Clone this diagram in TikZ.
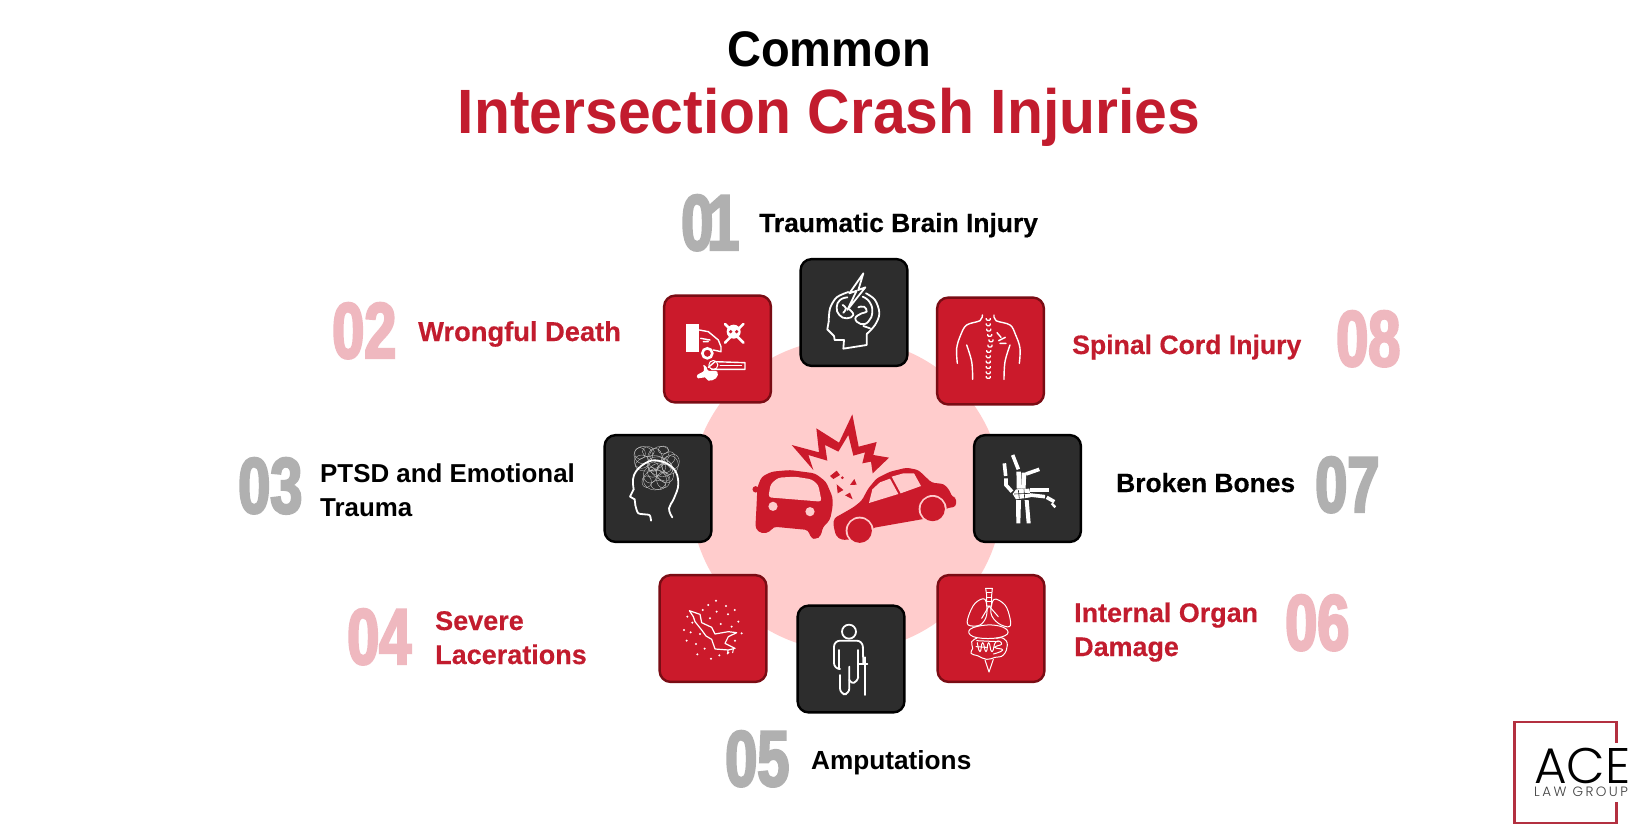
\documentclass[tikz,border=0pt]{standalone}
\usepackage{fontspec}
\setmainfont{Liberation Sans}
\newfontfamily\numfont[FakeStretch=0.73,FakeBold=3]{Liberation Sans}
\newfontfamily\titlefont[FakeStretch=0.94]{Liberation Sans}
\newfontfamily\labelfont[FakeBold=0.4]{Liberation Sans}
\newfontfamily\acefont{Poppins Light}
\newfontfamily\lawfont[LetterSpace=18]{Poppins Light}
\definecolor{crimson}{HTML}{CB1A2B}
\definecolor{crimsonEdge}{HTML}{7A0C14}
\definecolor{labelred}{HTML}{C21C2E}
\definecolor{darkbox}{HTML}{2D2D2D}
\definecolor{disc}{HTML}{FFCCCC}
\definecolor{numgray}{HTML}{B0B0B0}
\definecolor{numpink}{HTML}{EFB8BF}
\definecolor{logored}{HTML}{B33040}
\tikzset{
  boxbase/.style={rounded corners=11pt,minimum width=106.8pt,minimum height=106.8pt,line width=2.4pt,inner sep=0pt,outer sep=0pt},
  darkcard/.style={boxbase,draw=black,fill=darkbox},
  redcard/.style={boxbase,draw=crimsonEdge,fill=crimson},
  numlabel/.style={anchor=base west,inner sep=0pt,font=\numfont\bfseries\fontsize{79}{79}\selectfont},
  blacklabel/.style={anchor=base west,inner sep=0pt,align=left,text=black,font=\bfseries\fontsize{26.4}{34}\selectfont},
  boldblack/.style={blacklabel,font=\labelfont\bfseries\fontsize{26.4}{34}\selectfont},
  redlabel/.style={boldblack,text=labelred},
  zoomed/.style 2 args={shift={(#1,#2)},x=0.33333pt,y=-0.33333pt},
  iconline/.style={draw=white,line width=1.8pt,line join=round,line cap=round},
  iconmid/.style={draw=white,line width=1.4pt,line join=round,line cap=round},
  iconfine/.style={draw=white,line width=1pt,line join=round,line cap=round},
  iconhair/.style={draw=white!75!darkbox,line width=0.35pt},
  bone/.style={draw=white,line width=3.6pt},
}
\begin{document}
\begin{tikzpicture}[x=1pt,y=-1pt]
\useasboundingbox (0,0) rectangle (1640,840);
\fill[white] (0,0) rectangle (1640,840);
% disc
\node[circle,fill=disc,minimum size=312pt,inner sep=0pt] (hub) at (846.5,495) {};
% title
\node[anchor=base,inner sep=0pt,font=\titlefont\bfseries\fontsize{50}{50}\selectfont] (t1) at (829,67) {Common};
\node[anchor=base,inner sep=0pt,text=labelred,font=\titlefont\bfseries\fontsize{62.6}{62}\selectfont] (t2) at (829,133) {Intersection Crash Injuries};
% cards
\node[darkcard] (c1) at (854,312.5) {};
\node[redcard]  (c2) at (717.5,349) {};
\node[darkcard] (c3) at (658,488.5) {};
\node[redcard]  (c4) at (713,628.5) {};
\node[darkcard] (c5) at (851,659) {};
\node[redcard]  (c6) at (991,628.5) {};
\node[darkcard] (c7) at (1027.5,488.5) {};
\node[redcard]  (c8) at (990.5,351) {};
% numbers
\node[numlabel,text=numgray] (n1) at (681,250) {0\kern-6pt 1};
\node[numlabel,text=numpink] (n2) at (332,358) {02};
\node[numlabel,text=numgray] (n3) at (238,513) {03};
\node[numlabel,text=numpink] (n4) at (347,664) {04};
\node[numlabel,text=numgray] (n5) at (725,786) {05};
\node[numlabel,text=numpink] (n6) at (1285,650) {06};
\node[numlabel,text=numgray] (n7) at (1315,512) {07};
\node[numlabel,text=numpink] (n8) at (1336,366) {08};
% labels
\node[boldblack] (l1) at (759,232) {Traumatic Brain Injury};
\node[redlabel,font=\labelfont\bfseries\fontsize{27.3}{34}\selectfont]   (l2) at (418,341) {Wrongful Death};
\node[blacklabel,font=\bfseries\fontsize{25.9}{34}\selectfont] (l3) at (320,516) {PTSD and Emotional\\Trauma};
\node[redlabel,font=\labelfont\bfseries\fontsize{27}{34}\selectfont]   (l4) at (435,664) {Severe\\Lacerations};
\node[blacklabel,font=\bfseries\fontsize{26.2}{34}\selectfont] (l5) at (811,769) {Amputations};
\node[redlabel,font=\labelfont\bfseries\fontsize{26.9}{34}\selectfont]   (l6) at (1074,656) {Internal Organ\\Damage};
\node[boldblack] (l7) at (1116,492) {Broken Bones};
\node[redlabel,font=\labelfont\bfseries\fontsize{26.6}{34}\selectfont]   (l8) at (1072,354) {Spinal Cord Injury};
% crash picture
\begin{scope}[zoomed={740}{410},fill=crimson]
  \fill (155,105) -- (237,127) -- (229,55) -- (297,98) -- (337,13) -- (356,110) -- (410,96) -- (400,135) -- (447,143) -- (398,190) -- (393,155) -- (367,160) -- (375,127) -- (340,137) -- (325,75) -- (295,125) -- (255,105) -- (262,152) -- (205,135) -- (220,180) -- cycle;
  % left car
  \fill[rounded corners=3.5pt] (52,232) -- (65,200) -- (95,185) -- (150,180) -- (225,190) -- (258,215) -- (278,262) -- (278,290) -- (270,330) -- (248,352) -- (243,378) -- (228,388) -- (212,384) -- (205,360) -- (100,350) -- (90,366) -- (65,371) -- (46,356) -- (50,280) -- cycle;
  \fill (47,238) circle[radius=3.2pt];
  \fill[disc,rounded corners=3pt] (85,262) -- (92,222) -- (115,203) -- (165,200) -- (215,208) -- (235,225) -- (245,275) -- cycle;
  \fill[disc] (99,289) circle[radius=4.6pt] (210,305) circle[radius=4.6pt];
  % right car
  \fill[rounded corners=3pt] (280,345) -- (282,325) -- (340,292) -- (365,272) -- (385,235) -- (410,205) -- (450,185) -- (500,173) -- (535,180) -- (575,218) -- (612,222) -- (628,240) -- (637,262) -- (648,262) -- (648,290) -- (618,295) -- (590,320) -- (397,354) -- (380,385) -- (305,390) -- (288,378) -- cycle;
  \fill[disc] (387,279) -- (397,238) -- (420,217) -- (450,206) -- (475,252) -- cycle;
  \fill[disc] (455,200) -- (490,190) -- (522,190) -- (543,228) -- (482,250) -- cycle;
  \fill[disc] (359,362) circle[radius=14pt];
  \fill (359,362) circle[radius=12.2pt];
  \fill[disc] (578,297) circle[radius=14pt];
  \fill (578,297) circle[radius=12.2pt];
  % debris
  \fill (270,198) -- (290,182) -- (300,195) -- (280,207) -- cycle;
  \fill (307,203) circle[radius=1.5pt];
  \fill (330,225) -- (343,207) -- (350,224) -- cycle;
  \fill (290,223) -- (310,240) -- (293,250) -- cycle;
  \fill (315,256) -- (330,248) -- (338,268) -- cycle;
\end{scope}
% icon 1: head, brain and bolt
\begin{scope}[zoomed={640}{250}]
  \draw[iconline] plot[smooth,tension=.5] coordinates {(625,126) (590,142) (570,175) (566,215)};
  \draw[iconline] (566,215) -- (562,238) -- (582,258) -- (584,270) -- (612,270) -- (610,296) -- (680,285) -- (680,252);
  \draw[iconline] plot[smooth,tension=.6] coordinates {(680,252) (705,225) (718,190) (705,150) (678,130)};
  \draw[iconline] (670,70) -- (628,130) -- (650,122) -- (622,180) -- (676,112) -- (655,120) -- cycle;
  \draw[iconline] plot[smooth,tension=.8] coordinates {(622,142) (600,150) (590,172) (598,195) (620,205) (640,195) (628,178)};
  \draw[iconline] plot[smooth,tension=.8] coordinates {(608,165) (618,175) (610,188)};
  \draw[iconline] plot[smooth,tension=.8] coordinates {(668,140) (688,155) (697,185) (685,215) (662,222) (646,205) (665,190) (680,185) (672,170) (655,172)};
  \draw[iconline] (670,228) -- (690,235);
\end{scope}
% icon 2: car, skull, lying figure
\begin{scope}[zoomed={640}{250}]
  \fill[white] (138,223) rectangle (178,306);
  \draw[iconmid] (178,240) -- (205,245) -- (235,270) -- (243,290) -- (243,305) -- (220,300);
  \draw[iconmid] (182,265) -- (210,270) (190,275) -- (205,275);
  \draw[white,line width=2.6pt] (202,310) circle[radius=5pt];
  \draw[white,line width=2.6pt,line cap=round] (255,222) -- (310,278) (310,222) -- (255,278);
  \fill[white] (281,245) circle[radius=7pt];
  \fill[crimson] (272,245) circle[radius=1.8pt] (290,245) circle[radius=1.8pt];
  \draw[iconfine] (220,345) circle[radius=4.5pt];
  \draw[iconmid] (205,352) -- (225,335) -- (315,338) -- (315,358) -- (215,358);
  \draw[iconfine] (240,345) -- (305,345);
  \fill[white] plot[smooth cycle,tension=.7] coordinates {(172,375) (192,362) (190,345) (200,352) (205,362) (232,365) (228,385) (205,392) (195,382) (175,385)};
\end{scope}
% icon 8: back and spine
\begin{scope}[zoomed={920}{290}]
  \draw[iconmid] plot[smooth,tension=.6] coordinates {(187,75) (180,92) (140,105) (122,135) (110,175) (112,220)};
  \draw[iconmid] plot[smooth,tension=.6] coordinates {(222,75) (228,92) (270,105) (287,135) (300,175) (298,220)};
  \draw[iconmid] plot[smooth,tension=.6] coordinates {(140,165) (155,215) (158,268)};
  \draw[iconmid] plot[smooth,tension=.6] coordinates {(270,165) (255,215) (252,268)};
  \foreach \px/\py in {205/88,205/104,206/120,209/136,213/152,210/168,206/184,205/200,205/216,205/232,205/248,205/262}
    \draw[draw=white,line width=1.3pt,rounded corners=1pt] (\px-6,\py-4) -- (\px-6,\py+3) -- (\px+6,\py+3) -- (\px+6,\py-4);
  \draw[iconmid] (231,128) -- (243,142) (236,152) -- (256,142) (240,160) -- (258,160);
\end{scope}
% icon 7: hand bones
\begin{scope}[zoomed={920}{290}]
  \fill[white] (288,630) -- (303,630) -- (301,700) -- (289,700) -- cycle;
  \fill[white] (314,630) -- (326,630) -- (332,700) -- (320,700) -- cycle;
  \fill[white] (278,612) -- (288,598) -- (328,596) -- (332,622) -- (288,628) -- cycle;
  \draw[darkbox,line width=.6pt] (295,600) -- (298,626) (312,598) -- (314,625) (282,612) -- (330,610);
  \draw[bone] (276,605) -- (258,585) -- (258,565) (257,558) -- (253,520);
  \draw[bone,line width=4.5pt] (297,596) -- (296,545);
  \draw[bone] (295,538) -- (278,495);
  \draw[bone,line width=4.5pt] (310,596) -- (312,548);
  \draw[bone] (318,552) -- (358,538);
  \draw[bone] (330,600) -- (388,600);
  \draw[bone] (330,615) -- (375,620) (380,622) -- (403,635);
  \draw[bone,line width=2.4pt] (395,640) -- (406,652);
\end{scope}
% icon 3: head and tangled thoughts
\begin{scope}[zoomed={600}{430}]
  \foreach \cx/\cy/\ra/\rb/\ang in {130/75/28/26/0,178/72/30/22/20,210/105/25/28/0,165/150/35/30/0,150/100/45/22/10,195/130/24/30/30,125/95/22/20/0,180/110/40/28/-20,165/85/22/30/0,205/85/22/18/40,150/135/20/24/0,175/165/22/14/0,145/65/18/15/0,190/60/16/12/0,220/95/18/22/0,170/120/30/18/30,190/150/20/24/0,140/155/14/18/0,120/70/16/18/0,160/110/16/14/0,200/110/14/18/0,180/135/30/12/-30}
    \draw[iconhair] (\cx,\cy) ellipse[x radius=\ra*0.33333pt,y radius=\rb*0.33333pt,rotate=\ang];
  \draw[iconline] plot[smooth,tension=.4] coordinates {(153,272) (148,255) (115,250) (106,225)};
  \draw[iconline] (106,225) -- (104,208) -- (90,200) -- (101,178);
  \draw[iconline] plot[smooth,tension=.7] coordinates {(101,178) (102,135) (135,100) (175,92) (220,115) (235,160) (222,205) (207,235) (217,262)};
\end{scope}
% icon 4: laceration
\begin{scope}[zoomed={600}{430}]
  \draw[iconmid,line width=1.2pt] (268,542) -- (300,553) -- (305,578) -- (335,592) -- (345,612) -- (385,605) -- (410,608) -- (385,620) -- (375,640) -- (405,655) -- (385,660) -- (345,657) -- (335,628) -- (318,618) -- (305,600) -- (285,575) -- (280,560) -- cycle;
  \draw[iconfine] (384,660) -- (382,672) (400,658) -- (398,668);
  \foreach \dx/\dy in {348/512,325/525,378/528,404/540,308/540,350/545,262/560,384/553,330/565,277/578,415/575,362/582,395/590,425/610,252/600,272/607,300/612,405/632,260/632,288/642,314/656,292/673,333/686,358/676,385/668}
    \fill[white] (\dx,\dy) circle[radius=1.1pt];
\end{scope}
% icon 5: amputee with crutch
\begin{scope}[zoomed={790}{570}]
  \draw[iconline] (177,185) circle[radius=7pt];
  \draw[iconline] (148,297) -- (148,240) (205,240) -- (205,320);
  \draw[iconline,rounded corners=6pt] (148,297) -- (132,297) -- (132,212) -- (218,212) -- (220,282);
  \draw[iconline] (226,262) -- (226,375);
  \draw[iconline,rounded corners=6pt] (150,315) -- (150,373) -- (178,373) -- (178,290);
  \draw[iconline] (205,282) -- (232,282);
  \draw[iconline] (178,330) .. controls (185,345) and (200,340) .. (205,320);
\end{scope}
% icon 6: organs
\begin{scope}[zoomed={790}{570}]
  \draw[iconfine] (587,55) -- (607,55) -- (605,75) -- (605,108) -- (590,108) -- (590,75) -- cycle;
  \draw[iconfine] (590,68) -- (605,68) (590,82) -- (605,82) (590,95) -- (605,95);
  \draw[iconfine] plot[smooth cycle,tension=.6] coordinates {(585,88) (555,100) (535,140) (535,165) (570,165) (590,135)};
  \draw[iconfine] plot[smooth cycle,tension=.6] coordinates {(612,88) (645,105) (660,145) (658,170) (625,160) (603,130)};
  \draw[iconfine] (597,108) -- (575,145) (597,108) -- (625,140);
  \draw[iconfine] plot[smooth cycle,tension=.7] coordinates {(540,178) (590,165) (640,172) (652,192) (610,205) (550,200)};
  \draw[iconfine] plot[smooth,tension=.8] coordinates {(560,205) (545,215) (548,235) (543,250) (565,258) (590,268) (615,262) (640,255) (652,225) (640,205) (620,205)};
  \draw[iconfine] plot[smooth,tension=1] coordinates {(562,218) (570,245) (578,218) (588,245) (596,218) (606,245) (618,215) (635,222) (615,232) (638,240) (610,252)};
  \draw[iconfine] (558,230) -- (590,232) (560,212) -- (625,215);
  \draw[iconfine] (585,270) -- (597,306) -- (610,268);
\end{scope}
% logo
\begin{scope}[zoomed={1480}{700}]
  \draw[logored,line width=2.6pt] (410,128) -- (410,66) -- (104,66) -- (104,369) -- (410,369) -- (410,305);
\end{scope}
\node[anchor=base west,inner sep=0pt,font=\acefont\fontsize{50}{50}\selectfont] (ace) at (1534,783) {ACE};
\node[anchor=base west,inner sep=0pt,text=black!75,font=\lawfont\fontsize{13.5}{14}\selectfont] (law) at (1534,796) {LAW GROUP};
\end{tikzpicture}
\end{document}
